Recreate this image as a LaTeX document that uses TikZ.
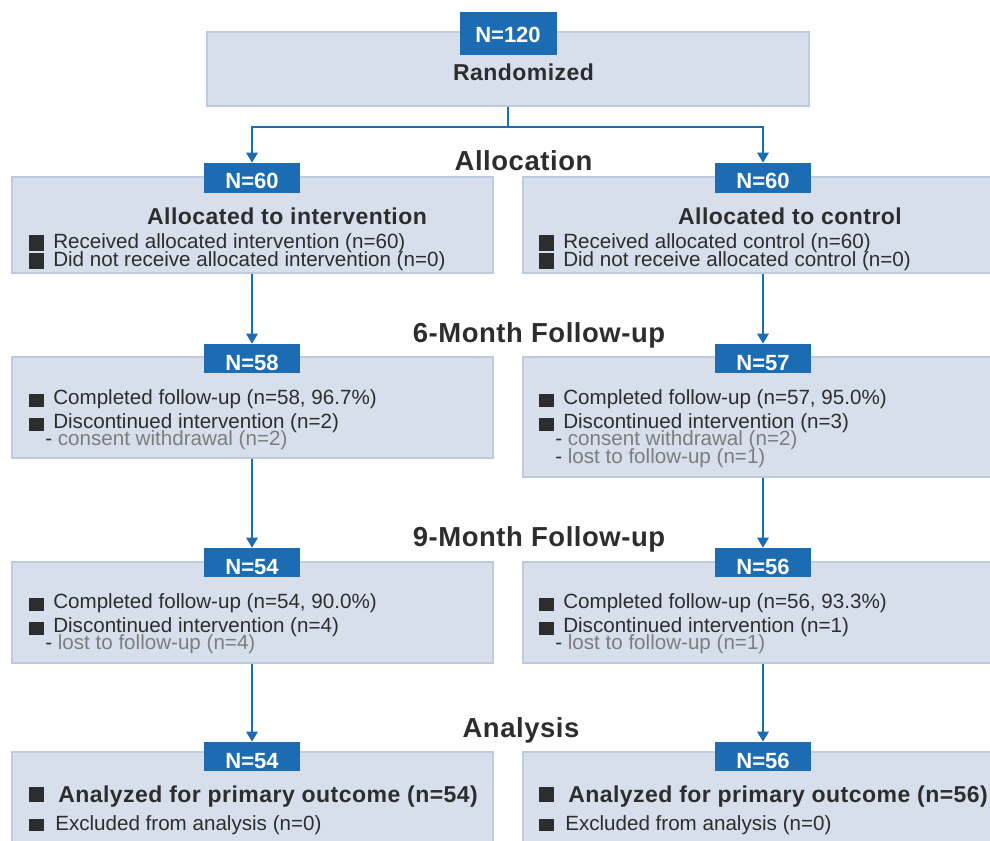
\documentclass[tikz,border=0pt]{standalone}
\usepackage{fontspec}
\setmainfont{Liberation Sans}
\newfontfamily\spc{Liberation Sans}[LetterSpace=2]
\usetikzlibrary{arrows.meta,fit}
\definecolor{boxfill}{RGB}{214,223,235}
\definecolor{boxline}{RGB}{188,203,222}
\definecolor{blu}{RGB}{27,108,178}
\definecolor{dk}{RGB}{45,45,45}
\definecolor{gr}{RGB}{125,125,125}
\newcommand\sqr[2]{\raisebox{-#2}{\textcolor{dk}{\rule{11.25pt}{#1}}}}
\newcommand\dsh{{\color{dk}-} }
\begin{document}
\begin{tikzpicture}[x=0.75pt,y=-0.75pt,
  box/.style={draw=boxline, fill=boxfill, line width=1pt, inner sep=0pt},
  lab/.style={fill=blu, text=white, font=\fontsize{16.5pt}{18pt}\selectfont\bfseries, inner sep=0pt, minimum width=72pt, text height=19.9pt, text depth=1.9pt},
  txt/.style={anchor=base west, inner sep=0pt, text=dk, font=\fontsize{15.45pt}{18pt}\selectfont, text height=10.5pt, text depth=0pt},
  sub/.style={txt, text=gr},
  hd/.style={anchor=base, inner sep=0pt, text=dk, font=\spc\fontsize{17.25pt}{19pt}\selectfont\bfseries},
  ttl/.style={anchor=base, inner sep=0pt, text=dk, font=\spc\fontsize{20.6pt}{23pt}\selectfont\bfseries},
  conn/.style={draw=blu, line width=1.5pt},
  arr/.style={conn, -{Triangle[length=7.5pt,width=8.5pt]}}
]
\useasboundingbox (0,0) rectangle (990,841);
\clip (0,0) rectangle (990,841);

% boxes
\node[box, fit={(207,32) (809,106)}] (top) {};
\node[box, fit={(12,177) (493,273)}] (bL1) {};
\node[box, fit={(523,177) (1004,273)}] (bR1) {};
\node[box, fit={(12,357) (493,458)}] (bL2) {};
\node[box, fit={(523,357) (1004,477)}] (bR2) {};
\node[box, fit={(12,562) (493,663)}] (bL3) {};
\node[box, fit={(523,562) (1004,663)}] (bR3) {};
\node[box, fit={(12,752) (493,880)}] (bL4) {};
\node[box, fit={(523,752) (1004,880)}] (bR4) {};

% labels
\node[lab, minimum width=72.75pt, text height=23.25pt, text depth=9pt] (n0) at (508,33.5) {N=120};
\node[lab, text height=19.5pt, text depth=3pt] (nL1) at (252,178) {N=60};
\node[lab, text height=19.5pt, text depth=3pt] (nR1) at (763,178) {N=60};
\node[lab] (nL2) at (252,358.5) {N=58};
\node[lab] (nR2) at (763,358.5) {N=57};
\node[lab] (nL3) at (252,562.5) {N=54};
\node[lab] (nR3) at (763,562.5) {N=56};
\node[lab] (nL4) at (252,756.5) {N=54};
\node[lab] (nR4) at (763,756.5) {N=56};

% titles
\node[hd] (rand) at (523.5,81) {Randomized};
\node[ttl] (t1) at (523.5,171) {Allocation};
\node[ttl] (t2) at (539,343) {6-Month Follow-up};
\node[ttl] (t3) at (539,547) {9-Month Follow-up};
\node[ttl] (t4) at (521,738) {Analysis};

% row 1
\node[hd] (hL1) at (287,225) {Allocated to intervention};
\node[txt] (aL1) at (29,249) {\sqr{12pt}{1.5pt}\hspace{6.75pt}Received allocated intervention (n=60)};
\node[txt] (cL1) at (29,267) {\sqr{12pt}{1.5pt}\hspace{6.75pt}Did not receive allocated intervention (n=0)};
\node[hd] (hR1) at (790,225) {Allocated to control};
\node[txt] (aR1) at (539,249) {\sqr{12pt}{1.5pt}\hspace{6.75pt}Received allocated control (n=60)};
\node[txt] (cR1) at (539,267) {\sqr{12pt}{1.5pt}\hspace{6.75pt}Did not receive allocated control (n=0)};

% row 2
\node[txt] (aL2) at (29,405) {\sqr{9.5pt}{1.5pt}\hspace{6.75pt}Completed follow-up (n=58, 96.7\%)};
\node[txt] (cL2) at (29,429) {\sqr{9.5pt}{1.5pt}\hspace{6.75pt}Discontinued intervention (n=2)};
\node[sub] (dL2) at (45,446) {\dsh consent withdrawal (n=2)};
\node[txt] (aR2) at (539,405) {\sqr{9.5pt}{1.5pt}\hspace{6.75pt}Completed follow-up (n=57, 95.0\%)};
\node[txt] (cR2) at (539,429) {\sqr{9.5pt}{1.5pt}\hspace{6.75pt}Discontinued intervention (n=3)};
\node[sub] (dR2) at (555,446) {\dsh consent withdrawal (n=2)};
\node[sub] (eR2) at (555,464) {\dsh lost to follow-up (n=1)};

% row 3
\node[txt] (aL3) at (29,609) {\sqr{9.5pt}{1.5pt}\hspace{6.75pt}Completed follow-up (n=54, 90.0\%)};
\node[txt] (cL3) at (29,633) {\sqr{9.5pt}{1.5pt}\hspace{6.75pt}Discontinued intervention (n=4)};
\node[sub] (dL3) at (45,650) {\dsh lost to follow-up (n=4)};
\node[txt] (aR3) at (539,609) {\sqr{9.5pt}{1.5pt}\hspace{6.75pt}Completed follow-up (n=56, 93.3\%)};
\node[txt] (cR3) at (539,633) {\sqr{9.5pt}{1.5pt}\hspace{6.75pt}Discontinued intervention (n=1)};
\node[sub] (dR3) at (555,650) {\dsh lost to follow-up (n=1)};

% row 4
\node[txt] (aL4) at (29,802) {\sqr{11.25pt}{0pt}\hspace{10.5pt}{\spc\fontsize{17.25pt}{19pt}\selectfont\bfseries Analyzed for primary outcome (n=54)}};
\node[txt] (cL4) at (29,830) {\sqr{9pt}{0.75pt}\hspace{8.25pt}Excluded from analysis (n=0)};
\node[txt] (aR4) at (539,802) {\sqr{11.25pt}{0pt}\hspace{10.5pt}{\spc\fontsize{17.25pt}{19pt}\selectfont\bfseries Analyzed for primary outcome (n=56)}};
\node[txt] (cR4) at (539,830) {\sqr{9pt}{0.75pt}\hspace{8.25pt}Excluded from analysis (n=0)};

% connectors
\coordinate (j) at (508,127);
\draw[conn] (top.south) -- (j);
\draw[arr] (j) -| (nL1.north);
\draw[arr] (j) -| (nR1.north);
\draw[arr] (bL1.south -| nL2.north) -- (nL2.north);
\draw[arr] (bR1.south -| nR2.north) -- (nR2.north);
\draw[arr] (bL2.south -| nL3.north) -- (nL3.north);
\draw[arr] (bR2.south -| nR3.north) -- (nR3.north);
\draw[arr] (bL3.south -| nL4.north) -- (nL4.north);
\draw[arr] (bR3.south -| nR4.north) -- (nR4.north);
\end{tikzpicture}
\end{document}
